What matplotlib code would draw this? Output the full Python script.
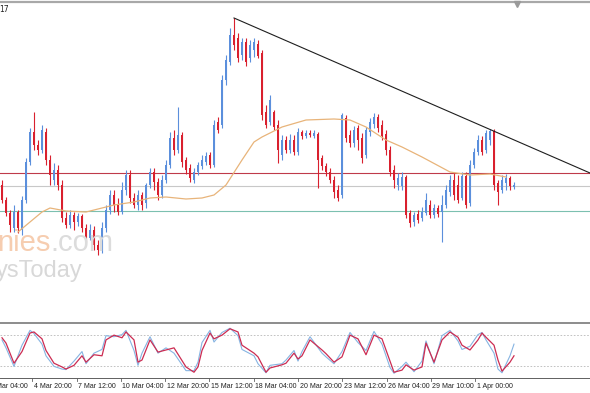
import numpy as np
import matplotlib
matplotlib.use("Agg")
import matplotlib.pyplot as plt
from matplotlib.lines import Line2D
import matplotlib.transforms as mtransforms

# candle data (price in points above base), one value per 4h bar
opens = [145, 130, 117, 102, 118, 100, 130, 168, 198, 185,
         180, 198, 170, 150, 160, 145, 112, 105, 115, 108,
         114, 102, 92, 100, 85, 80, 102, 120, 135, 125,
         118, 140, 155, 132, 125, 135, 127, 145, 158, 148,
         135, 150, 165, 192, 180, 195, 170, 162, 150, 158,
         164, 168, 175, 165, 208, 205, 250, 268, 295, 292,
         275, 288, 272, 280, 286, 277, 218, 208, 218, 205,
         175, 190, 180, 190, 178, 198, 194, 197, 194, 196,
         172, 164, 158, 150, 140, 135, 212, 195, 187, 202,
         192, 175, 198, 206, 213, 205, 196, 180, 160, 145,
         144, 153, 117, 108, 116, 112, 117, 125, 115, 122,
         118, 125, 138, 150, 145, 132, 154, 127, 165, 178,
         190, 180, 190, 199, 147, 140, 147, 152, 143]
highs = [150, 133, 120, 125, 120, 134, 172, 202, 218, 190,
         205, 202, 175, 167, 165, 150, 118, 120, 118, 117,
         116, 106, 106, 104, 90, 108, 125, 140, 140, 132,
         148, 160, 160, 137, 140, 138, 147, 162, 162, 152,
         155, 170, 198, 200, 223, 198, 173, 166, 162, 168,
         175, 178, 178, 210, 213, 255, 275, 302, 312, 297,
         292, 292, 290, 292, 290, 280, 225, 235, 220, 210,
         195, 194, 196, 195, 202, 200, 200, 200, 200, 198,
         175, 167, 162, 154, 145, 217, 215, 200, 204, 205,
         197, 203, 212, 217, 216, 210, 200, 184, 165, 157,
         158, 155, 120, 118, 120, 123, 137, 130, 126, 125,
         135, 145, 155, 157, 155, 158, 158, 170, 182, 195,
         194, 200, 201, 201, 150, 155, 156, 154, 148]
lows = [127, 114, 98, 98, 97, 95, 127, 165, 180, 175,
        177, 165, 145, 145, 140, 108, 102, 102, 100, 104,
        98, 88, 90, 80, 75, 77, 98, 116, 118, 115,
        116, 135, 127, 122, 120, 120, 122, 142, 140, 130,
        132, 147, 162, 175, 177, 163, 156, 148, 147, 155,
        161, 165, 162, 163, 197, 202, 245, 265, 280, 268,
        270, 264, 268, 273, 272, 210, 202, 205, 200, 167,
        170, 177, 177, 175, 175, 191, 192, 193, 192, 142,
        160, 154, 147, 132, 129, 132, 188, 183, 183, 180,
        167, 172, 194, 202, 198, 190, 175, 154, 142, 140,
        140, 112, 103, 104, 107, 109, 115, 112, 112, 113,
        88, 122, 134, 130, 127, 130, 122, 124, 162, 175,
        175, 177, 185, 140, 125, 137, 140, 140, 141]
closes = [130, 117, 105, 118, 102, 130, 168, 198, 185, 180,
          200, 170, 155, 160, 145, 112, 105, 115, 108, 114,
          102, 92, 100, 85, 80, 102, 120, 135, 125, 118,
          140, 155, 132, 125, 135, 125, 145, 158, 148, 135,
          150, 165, 192, 180, 195, 168, 160, 152, 158, 165,
          170, 174, 165, 205, 200, 250, 270, 295, 285, 272,
          288, 268, 285, 288, 274, 215, 205, 230, 203, 180,
          190, 180, 190, 178, 198, 194, 197, 195, 197, 170,
          164, 158, 150, 138, 132, 215, 192, 187, 200, 190,
          172, 200, 208, 213, 202, 194, 180, 158, 150, 152,
          153, 115, 107, 115, 110, 118, 130, 115, 122, 116,
          125, 140, 150, 135, 130, 154, 125, 165, 178, 190,
          178, 197, 199, 145, 138, 150, 152, 144, 145]

# moving average
ma_bars = [4, 7, 10, 12, 16, 21, 25, 28, 33, 37, 41, 46, 50, 53, 56,
           60, 63, 65, 70, 76, 83, 87, 91, 96, 100, 105, 112, 117, 122, 126]
ma_vals = [98, 108, 118, 122, 119, 118, 122, 125, 128, 132, 133, 131, 132, 135, 145,
           170, 188, 193, 203, 210, 211, 210, 203, 190, 183, 173, 158, 155, 156, 153]

# horizontal levels and trendline
level_red = 157
level_gray = 144
level_teal = 119
trend_bars = [58, 147]
trend_vals = [312, 157]

# stochastic oscillator
stoch_bars = [0, 1, 3, 5, 7, 8, 10, 11, 13, 15, 16, 18, 20, 21, 23, 25, 26, 28, 30, 31,
              33, 34, 35, 37, 39, 41, 43, 46, 48, 49, 50, 52, 53, 55, 57, 59, 60, 63, 64, 66,
              67, 70, 71, 73, 74, 75, 77, 80, 81, 83, 85, 87, 89, 91, 93, 95, 97, 98, 100, 101,
              103, 105, 106, 108, 110, 112, 114, 115, 117, 119, 120, 121, 123, 124, 125, 127, 128]
stoch_d = [74, 64, 26, 48, 83, 85, 72, 50, 26, 19, 15, 22, 40, 28, 42, 40, 70, 79, 74, 85,
           70, 28, 32, 70, 47, 51, 55, 19, 9, 19, 50, 83, 72, 79, 91, 85, 60, 45, 38, 9,
           17, 23, 26, 45, 34, 40, 70, 51, 44, 28, 38, 79, 72, 42, 79, 72, 30, 9, 13, 23,
           13, 19, 64, 28, 70, 85, 75, 60, 51, 70, 83, 75, 60, 32, 11, 28, 40]
stoch_k = [70, 55, 20, 60, 88, 82, 62, 40, 20, 15, 14, 30, 48, 25, 45, 52, 78, 76, 80, 88,
           50, 22, 45, 76, 45, 55, 45, 12, 12, 28, 65, 88, 66, 84, 92, 78, 52, 40, 25, 8,
           22, 25, 32, 50, 30, 48, 76, 45, 38, 25, 48, 84, 65, 50, 86, 62, 18, 7, 20, 28,
           10, 30, 68, 25, 78, 88, 68, 52, 58, 80, 84, 70, 45, 15, 8, 40, 62]

tick_labels = ["2 Mar 04:00", "4 Mar 20:00", "7 Mar 12:00", "10 Mar 04:00",
               "12 Mar 20:00", "15 Mar 12:00", "18 Mar 04:00", "20 Mar 20:00",
               "23 Mar 12:00", "26 Mar 04:00", "29 Mar 10:00", "1 Apr 00:00"]

UP = "#5b8fdc"
DOWN = "#d9202e"

W, H = 590, 393
fig = plt.figure(figsize=(W / 100, H / 100), dpi=100)
fig.patch.set_facecolor("white")


def fy(py):
    return 1 - py / H


xlim = (-0.5, 147)

# main price panel
ax = fig.add_axes([0, fy(320), 1, (320 - 4) / H])
ax.set_xlim(*xlim)
ax.set_ylim(10, 326)
ax.axis("off")

# faint watermark
ax.text(-3 / 590 * (xlim[1] - xlim[0]) + xlim[0], 0, "", transform=ax.transData)
fig.text(-3 / W, fy(251), "nies", fontsize=21, color="#f6cdb0",
         family="Liberation Sans", va="baseline", ha="left", zorder=0)
fig.text(50 / W, fy(251), ".com", fontsize=21, color="#dcdcdc",
         family="Liberation Sans", va="baseline", ha="left", zorder=0)
fig.text(-4 / W, fy(277), "ysToday", fontsize=17, color="#d8d8d8",
         family="Liberation Sans", va="baseline", ha="left", zorder=0)

ax.axhline(level_gray, color="#c8c8c8", lw=0.8, zorder=1)
ax.axhline(level_teal, color="#7cc0b0", lw=0.8, zorder=1)
ax.axhline(level_red, color="#bf3a4a", lw=0.8, zorder=1)

o = np.array(opens, dtype=float)
h = np.array(highs, dtype=float)
l = np.array(lows, dtype=float)
c = np.array(closes, dtype=float)
x = np.arange(len(o))
up = c >= o
colors = np.where(up, UP, DOWN)
ax.vlines(x, l, h, colors=colors, lw=0.8, zorder=2)
body = c - o
body = np.where(np.abs(body) < 1.2, np.where(up, 1.2, -1.2), body)
ax.bar(x, body, bottom=o, width=0.6, color=colors, lw=0, zorder=3)

ax.plot(ma_bars, ma_vals, color="#e8b47a", lw=0.9, zorder=4)
ax.plot(trend_bars, trend_vals, color="#1e1e1e", lw=0.8, zorder=5)

# stochastic panel
sax = fig.add_axes([0, fy(377), 1, (377 - 324) / H])
sax.set_xlim(*xlim)
sax.set_ylim(0, 100)
sax.axis("off")
for lev in (20, 80):
    sax.axhline(lev, color="#b8b8b8", lw=0.6, ls=(0, (2, 2)))
sax.plot(stoch_bars, stoch_k, color="#86b4e2", lw=0.8)
sax.plot(stoch_bars, stoch_d, color="#cc2c52", lw=0.9)

# frame lines
fig.add_artist(Line2D([0, 1], [fy(1.5), fy(1.5)], color="#a8a8a8", lw=1.6))
fig.add_artist(Line2D([0, 1], [fy(322.5), fy(322.5)], color="#8c8c8c", lw=1.4))
fig.add_artist(Line2D([0, 1], [fy(377.5), fy(377.5)], color="#606060", lw=0.7))
fig.add_artist(Line2D([517 / W], [fy(4)], marker="v", color="#9a9a9a",
                      markersize=4, lw=0))
fig.text(-1 / W, fy(9), "17", fontsize=5.5, color="#202020", va="center", ha="left")

# time labels under the oscillator
tick_pos = -3.5 + np.arange(len(tick_labels)) * 11.07
trans = mtransforms.blended_transform_factory(sax.transData, fig.transFigure)
for pos, lab in zip(tick_pos, tick_labels):
    sax.add_line(Line2D([pos, pos], [fy(377.5), fy(381)], transform=trans,
                        color="#606060", lw=0.6, clip_on=False))
    sax.text(pos + 0.4, fy(386), lab, transform=trans, fontsize=5,
             family="Liberation Sans", color="#202020", ha="left", va="center",
             clip_on=False)

fig.savefig("out.png", dpi=100)
